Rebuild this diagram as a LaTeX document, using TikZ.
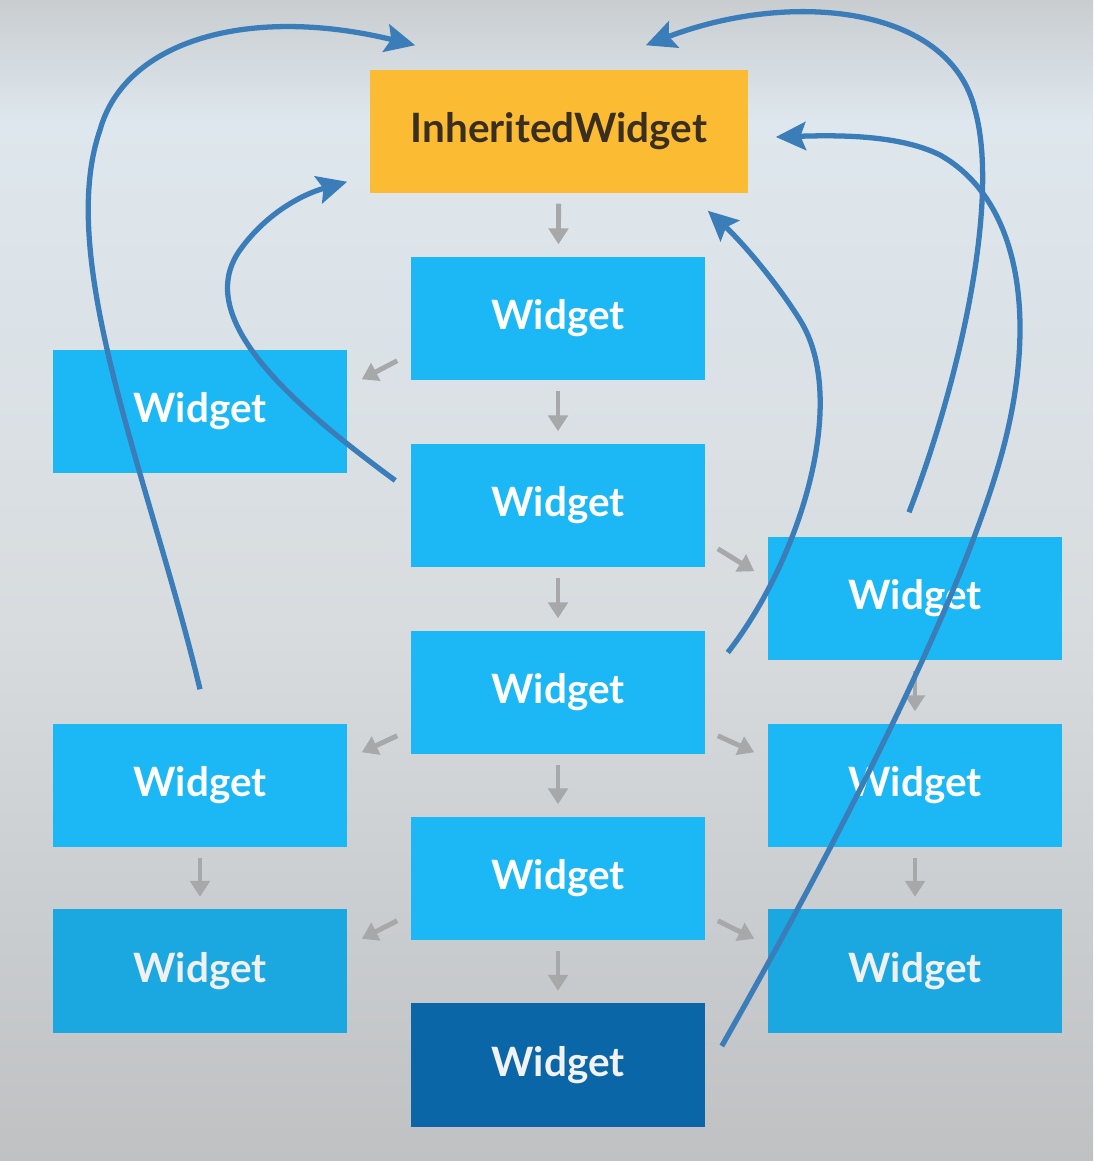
\documentclass[tikz,border=0pt]{standalone}
\usepackage{fontspec}
\setmainfont{Lato}
\usepackage{tikz}
\usetikzlibrary{positioning,arrows.meta,calc}
\definecolor{wblue}{HTML}{1CB8F5}
\definecolor{wbluelow}{HTML}{1BA8E0}
\definecolor{wdark}{HTML}{0B66A8}
\definecolor{worange}{HTML}{FBBB33}
\definecolor{wtext}{HTML}{3A2F1F}
\definecolor{garr}{HTML}{A6A8AA}
\definecolor{barr}{HTML}{3B7DB8}
\definecolor{bgA}{HTML}{C9CDD0}
\definecolor{bgB}{HTML}{DEE7ED}
\definecolor{bgC}{HTML}{D8DCDF}
\definecolor{bgD}{HTML}{BFC1C3}
\tikzset{
  wbox/.style={rectangle,fill=wblue,text=white,minimum width=2.94cm,minimum height=1.23cm,
    font=\fontsize{11.5}{14}\selectfont\bfseries,inner sep=0pt},
  wboxlow/.style={wbox,fill=wbluelow,text=white!88!gray},
  inhbox/.style={wbox,fill=worange,text=wtext,minimum width=3.78cm},
  garrow/.style={-{Triangle[length=4.5pt,width=5.5pt]},line width=1.4pt,garr}, % tree edge
  barrow/.style={-{Stealth[length=8.5pt,width=8pt,inset=1.5pt]},line width=1.5pt,barr}, % lookup
}

\begin{document}
\begin{tikzpicture}[x=0.01cm,y=-0.01cm]
  % background
  \useasboundingbox (0,0) rectangle (1093,1161);
  \shade[top color=bgA,bottom color=bgB] (0,0) rectangle (1093,120);
  \shade[top color=bgB,bottom color=bgC] (0,120) rectangle (1093,620);
  \shade[top color=bgC,bottom color=bgD] (0,620) rectangle (1093,1161);

  % widget tree
  \node[inhbox] (inh) at (559,131.5) {InheritedWidget};
  \node[wbox] (w1) at (558,318.5) {Widget};
  \node[wbox] (w2) at (558,505.5) {Widget};
  \node[wbox] (w3) at (558,692.5) {Widget};
  \node[wbox] (w4) at (558,878.5) {Widget};
  \node[wbox,fill=wdark,text=white!90!gray] (w5) at (558,1065) {Widget};
  \node[wbox] (l1) at (200,411.5) {Widget};
  \node[wbox] (l2) at (200,785.5) {Widget};
  \node[wboxlow] (l3) at (200,971) {Widget};
  \node[wbox] (r1) at (915,598.5) {Widget};
  \node[wbox] (r2) at (915,785.5) {Widget};
  \node[wboxlow] (r3) at (915,971) {Widget};

  % parent -> child edges
  \foreach \a/\b in {inh/w1,w1/w2,w2/w3,w3/w4,w4/w5,l2/l3,r1/r2,r2/r3}
    \draw[garrow,shorten <=0.1cm,shorten >=0.12cm] (\a) -- (\b);
  \draw[garrow] ($(w1.south west)+(-13,-20)$) -- ($(l1.north east)+(14,30)$);
  \draw[garrow] ($(w3.south west)+(-13,-19)$) -- ($(l2.north east)+(14,29)$);
  \draw[garrow] ($(w4.south west)+(-13,-20)$) -- ($(l3.north east)+(14,30)$);
  \draw[garrow] ($(w2.south east)+(12,-19)$) -- ($(r1.north west)+(-13,35)$);
  \draw[garrow] ($(w3.south east)+(12,-19)$) -- ($(r2.north west)+(-13,29)$);
  \draw[garrow] ($(w4.south east)+(12,-20)$) -- ($(r3.north west)+(-13,30)$);

  % lookups up to the InheritedWidget
  \coordinate (s1) at ($(l2.north)+(0,-34)$);
  \coordinate (e1) at ($(inh.north west)+(46,-24)$);
  \coordinate (s2) at ($(w2.west)+(-15,-25)$);
  \coordinate (e2) at ($(inh.south west)+(-22,-12)$);
  \coordinate (s3) at ($(w3.east)+(22,-40)$);
  \coordinate (e3) at ($(inh.south east)+(-41,17)$);
  \coordinate (s4) at ($(r1.north)+(-6,-24)$);
  \coordinate (e4) at ($(inh.north east)+(-103,-24)$);
  \coordinate (s5) at ($(w5.east)+(16,-19)$);
  \coordinate (e5) at ($(inh.east)+(27,5.5)$);
  \draw[barrow] (s1) .. controls (150,480) and (55,260) .. (100,130)
                     .. controls (125,40) and (250,5) .. (e1);
  \draw[barrow] (s2) .. controls (300,410) and (190,320) .. (240,250)
                     .. controls (265,215) and (300,195) .. (e2);
  \draw[barrow] (s3) .. controls (800,560) and (850,400) .. (800,320)
                     .. controls (775,280) and (740,240) .. (e3);
  \draw[barrow] (s4) .. controls (960,380) and (1000,200) .. (975,110)
                     .. controls (950,5) and (790,-10) .. (e4);
  \draw[barrow] (s5) .. controls (850,820) and (960,600) .. (1000,460)
                     .. controls (1040,320) and (1020,200) .. (940,155)
                     .. controls (900,135) and (840,135) .. (e5);
\end{tikzpicture}
\end{document}
